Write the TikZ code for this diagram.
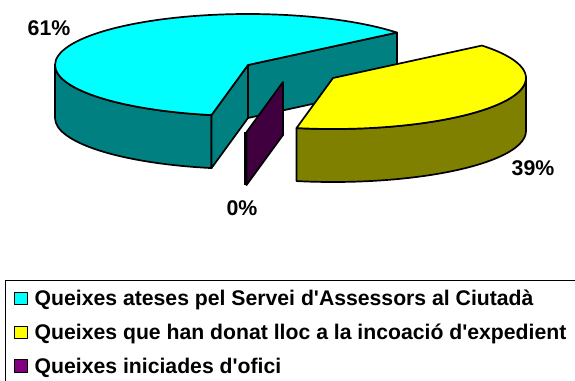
\documentclass[tikz,border=0pt]{standalone}
\usepackage{fontspec}
\setmainfont{Liberation Sans}
\usetikzlibrary{calc}
\definecolor{cytop}{HTML}{00FFFF}
\definecolor{cyside}{HTML}{008080}
\definecolor{yetop}{HTML}{FFFF00}
\definecolor{yeside}{HTML}{808000}
\definecolor{puside}{HTML}{400040}
\definecolor{pulegend}{HTML}{800080}
\begin{document}
\begin{tikzpicture}[x=1pt,y=1pt, line join=round,
  edge/.style={draw=black, line width=1.7pt},
  lbl/.style={font=\fontsize{21.3}{25}\selectfont\bfseries, inner sep=0pt, anchor=base},
  legtext/.style={font=\fontsize{21.2}{25}\selectfont\bfseries, inner sep=0pt, anchor=base west},
  legkey/.style={draw=black, line width=1.4pt, minimum size=12.5pt, inner sep=0pt},
  el/.style={x radius=193, y radius=51}]
\useasboundingbox (0,-380) rectangle (575,0);
\def\hh{53}
\def\aa{39.5}\def\ab{259.1}
% cyan slice
\coordinate (cc) at (248,-65);
\coordinate (ccb) at (248,-118);
\filldraw[edge, fill=cyside] ($(cc)+(180:193 and 51)$) arc[el,start angle=180,end angle=\ab] -- ++(0,-\hh) arc[el,start angle=\ab,end angle=180] -- cycle;
\filldraw[edge, fill=cyside] (cc) -- ($(cc)+(\ab:193 and 51)$) -- ($(ccb)+(\ab:193 and 51)$) -- (ccb) -- cycle;
\filldraw[edge, fill=cyside] (cc) -- ($(cc)+(\aa:193 and 51)$) -- ($(ccb)+(\aa:193 and 51)$) -- (ccb) -- cycle;
\filldraw[edge, fill=cytop] (cc) -- ($(cc)+(\aa:193 and 51)$) arc[el,start angle=\aa,end angle=\ab] -- cycle;
% purple slice
\coordinate (pc) at (283,-82);
\coordinate (pcb) at (283,-135);
\filldraw[edge, fill=puside] (pc) -- ($(pc)+(\ab:193 and 51)$) -- ($(pcb)+(\ab:193 and 51)$) -- (pcb) -- cycle;
\draw[line width=2.6pt, line cap=butt] ($(pc)+(\ab:193 and 51)+(-0.8,0)$) -- ($(pcb)+(\ab:193 and 51)+(-0.8,0)$);
% yellow slice
\coordinate (yc) at (333,-78);
\filldraw[edge, fill=yeside] ($(yc)+(\ab:193 and 51)$) arc[el,start angle=\ab,end angle=360] -- ++(0,-\hh) arc[el,start angle=360,end angle=\ab] -- cycle;
\filldraw[edge, fill=yetop] (yc) -- ($(yc)+(\ab:193 and 51)$) arc[el,start angle=\ab,end angle=\aa+360] -- cycle;
% labels
\node[lbl] (l61) at (49,-35) {61\%};
\node[lbl] (l39) at (533,-175) {39\%};
\node[lbl] (l0) at (242,-215) {0\%};
% legend
\draw[line width=0.9pt] (5,-400) -- (5,-280) -- (600,-280);
\node[legkey, fill=cytop] (k1) at (21,-298.5) {};
\node[legkey, fill=yetop] (k2) at (21,-332.5) {};
\node[legkey, fill=pulegend] (k3) at (21,-366) {};
\node[legtext] (t1) at (34.5,-305.5) {Queixes ateses pel Servei d\textquotesingle Assessors al Ciutadà};
\node[legtext] (t2) at (34.5,-339.5) {Queixes que han donat lloc a la incoació d\textquotesingle expedient};
\node[legtext] (t3) at (34.5,-373) {Queixes iniciades d\textquotesingle ofici};
\end{tikzpicture}
\end{document}
